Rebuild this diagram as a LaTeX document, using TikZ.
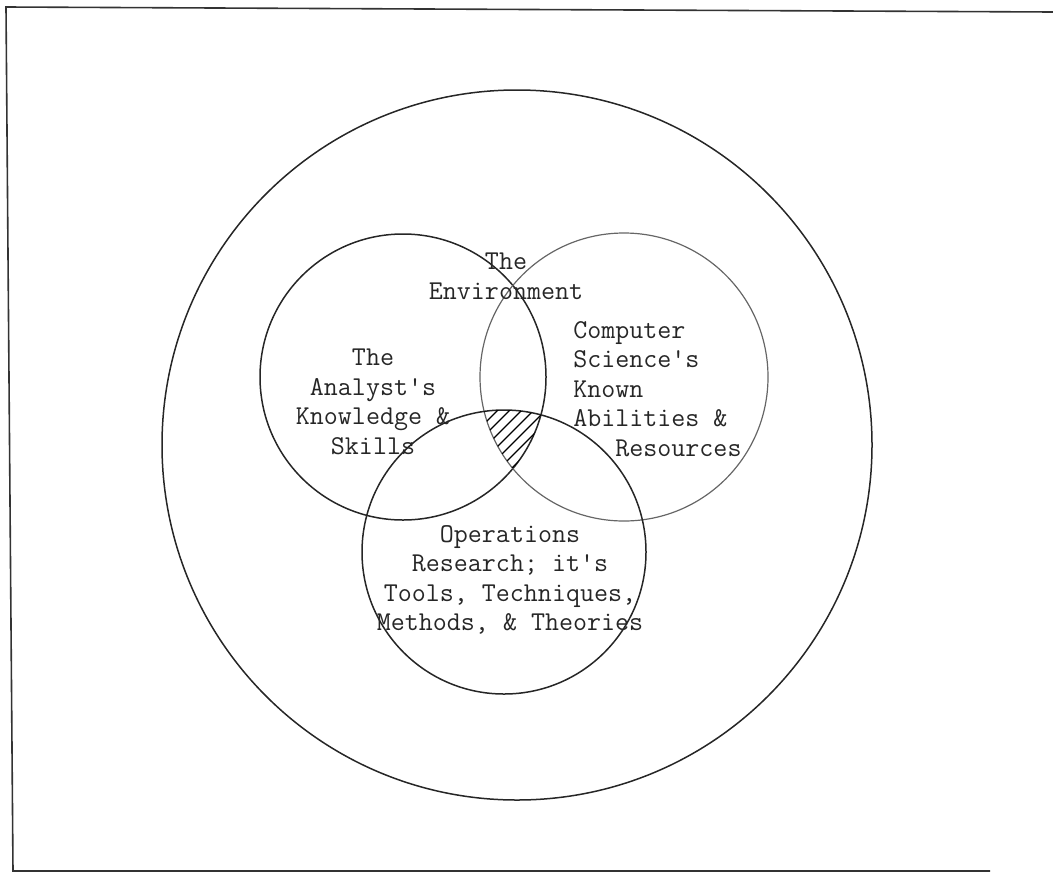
\documentclass[tikz,border=0pt]{standalone}
\usepackage{fontspec}
\begin{document}
\begin{tikzpicture}[x=0.5pt,y=-0.5pt,
  ring/.style={line width=0.75pt,draw=black!85},
  lightring/.style={line width=0.6pt,draw=black!60},
  label/.style={font=\ttfamily\fontsize{13.6}{14.8}\selectfont,inner sep=0pt,text=black!85},
  frameline/.style={line width=0.8pt,draw=black!80}]
\useasboundingbox (0,0) rectangle (1053,873);
% frame
\coordinate (ftl) at (6,7);
\coordinate (ftr) at (1053,12);
\coordinate (fbl) at (13,871);
\coordinate (fbr) at (990,871);
\draw[frameline] (ftr) -- (ftl) -- (fbl) -- (fbr);
% circles
\coordinate (co) at (517,445);
\coordinate (cl) at (403,377);
\coordinate (cr) at (624,377);
\coordinate (cb) at (504,552);
\draw[ring] (co) circle[radius=355];
\draw[ring] (cl) circle[radius=143];
\draw[lightring] (cr) circle[radius=144];
\draw[ring] (cb) circle[radius=142];
% hatched common region
\begin{scope}
  \clip (cl) circle[radius=143];
  \clip (cr) circle[radius=144];
  \clip (cb) circle[radius=142];
  \foreach \k in {-300,-288,...,300}{
    \draw[line width=0.6pt] ({500+\k-80},500) -- ({500+\k+80},340);
  }
\end{scope}
% texts
\node[label,align=center] (env) at (506,276) {The\\Environment};
\node[label,align=center] (ana) at (373,402) {The\\Analyst's\\Knowledge \&\\Skills};
\node[label,align=left,anchor=west] (cs) at (573,389) {Computer\\Science's\\Known\\Abilities \&\\\phantom{xxx}Resources};
\node[label,align=center] (or) at (510,580) {Operations\\Research; it's\\Tools, Techniques,\\Methods, \& Theories};
\end{tikzpicture}
\end{document}
